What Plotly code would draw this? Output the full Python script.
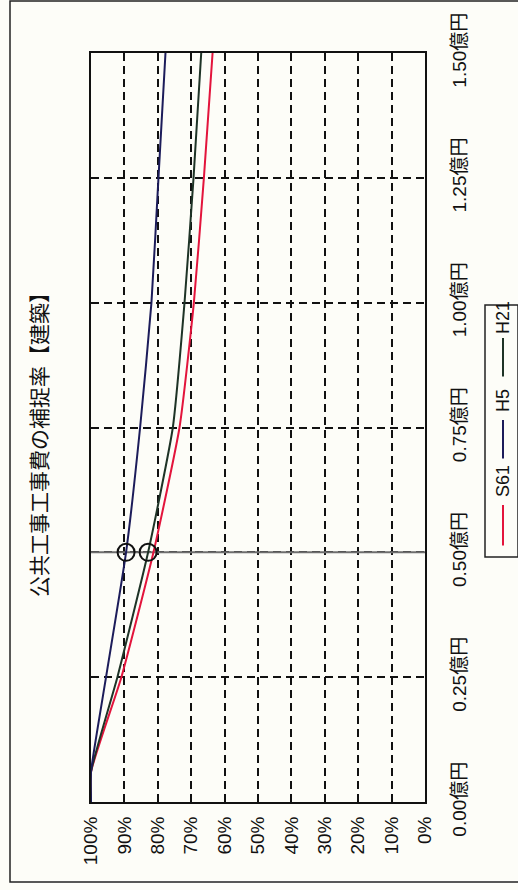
import plotly.graph_objects as go

# ---- data ----
amounts = [0.0, 0.06, 0.25, 0.50, 0.75, 1.00, 1.25, 1.50]   # 億円
s61 = [100.0, 100.0, 90.9, 81.3, 73.5, 69.2, 66.2, 63.6]     # %
h5 = [100.0, 100.0, 95.5, 89.5, 85.3, 81.9, 79.8, 77.7]      # %
h21 = [100.0, 100.0, 92.1, 82.9, 75.5, 72.0, 69.3, 67.0]     # %

pct_ticks = [100, 90, 80, 70, 60, 50, 40, 30, 20, 10, 0]
pct_labels = ["100%", "90%", "80%", "70%", "60%", "50%", "40%", "30%", "20%", "10%", "0%"]
amt_ticks = [0.0, 0.25, 0.5, 0.75, 1.0, 1.25, 1.5]
amt_labels = ["0.00億円", "0.25億円", "0.50億円", "0.75億円", "1.00億円", "1.25億円", "1.50億円"]

marker_amount = 0.5
title_text = "公共工事工事費の補捉率【建築】"
series_names = ["S61", "H5", "H21"]
colors = {"S61": "#e3143c", "H5": "#1c1c5a", "H21": "#1e3326"}

FONT = "Arial, Liberation Sans, Noto Sans CJK JP, sans-serif"
BG = "#fdfdf8"

fig = go.Figure()

# reference line at 0.50億円
fig.add_trace(go.Scatter(x=[100, 0], y=[marker_amount, marker_amount], mode="lines",
                         line=dict(color="#6e6e6e", width=2), showlegend=False, hoverinfo="skip"))

for name, vals in [("S61", s61), ("H21", h21), ("H5", h5)]:
    fig.add_trace(go.Scatter(x=vals, y=amounts, mode="lines", name=name,
                             line=dict(color=colors[name], width=2, shape="spline", smoothing=0.5),
                             showlegend=False))

# circles at 0.50億円 for H5 and H21
idx = amounts.index(marker_amount)
fig.add_trace(go.Scatter(x=[h5[idx], h21[idx]], y=[marker_amount, marker_amount], mode="markers",
                         marker=dict(symbol="circle-open", size=17, color="#111111",
                                     line=dict(width=2, color="#111111")),
                         showlegend=False, hoverinfo="skip"))

fig.update_xaxes(range=[100, 0], tickmode="array", tickvals=pct_ticks, ticktext=pct_labels,
                 tickangle=-90, showgrid=True, gridcolor="#111111", gridwidth=2, griddash="8px,5px",
                 showline=True, mirror=True, linecolor="#111111", linewidth=2, zeroline=False,
                 ticks="", ticklabelstandoff=5, automargin=False,
                 tickfont=dict(family=FONT, size=19, color="#111111"))
fig.update_yaxes(range=[0, 1.5], side="right", tickmode="array", tickvals=amt_ticks, ticktext=amt_labels,
                 tickangle=-90, showgrid=True, gridcolor="#111111", gridwidth=2, griddash="8px,5px",
                 showline=True, mirror=True, linecolor="#111111", linewidth=2, zeroline=False,
                 ticks="", ticklabelstandoff=16, automargin=False,
                 tickfont=dict(family=FONT, size=19, color="#111111"))

W, H = 518, 890
L, R, T, B = 91, 93, 53, 88
pw, ph = W - L - R, H - T - B


def px(x):
    return (x - L) / pw


def py(y):
    return (H - B - y) / ph


shapes = []
# outer frame
shapes.append(dict(type="rect", xref="paper", yref="paper", x0=px(10), x1=px(540), y0=py(882), y1=py(1),
                   line=dict(color="#222222", width=1.5), fillcolor="rgba(0,0,0,0)", layer="below"))
# legend box
shapes.append(dict(type="rect", xref="paper", yref="paper", x0=px(485), x1=px(518), y0=py(557), y1=py(305),
                   line=dict(color="#222222", width=1.5), fillcolor="rgba(0,0,0,0)"))

annotations = [dict(text=title_text, xref="paper", yref="paper", x=px(38), y=py(440), showarrow=False,
                    xanchor="center", yanchor="middle", textangle=-90,
                    font=dict(family="Noto Sans CJK JP, sans-serif", size=21, color="#111111"))]

legend_items = [("S61", 547, 505, 481), ("H5", 460, 420, 401), ("H21", 378, 338, 318)]
for name, ly0, ly1, ty in legend_items:
    # legend swatch drawn as an arrow-less annotation line
    annotations.append(dict(text="", xref="paper", yref="paper", x=px(503), y=py(ly1), showarrow=True,
                            ax=0, ay=ly0 - ly1, arrowhead=0, arrowwidth=2, arrowcolor=colors[name],
                            standoff=0, startstandoff=0))
    annotations.append(dict(text=name, xref="paper", yref="paper", x=px(503), y=py(ty), showarrow=False,
                            xanchor="center", yanchor="middle", textangle=-90,
                            font=dict(family=FONT, size=18, color="#111111")))

fig.update_layout(width=W, height=H, margin=dict(l=L, r=R, t=T, b=B, autoexpand=False),
                  paper_bgcolor=BG, plot_bgcolor=BG, showlegend=False,
                  shapes=shapes, annotations=annotations)

fig.write_html("out.html", config={"displayModeBar": False},
               post_script="document.body.style.margin='0';document.body.style.overflow='hidden';")
